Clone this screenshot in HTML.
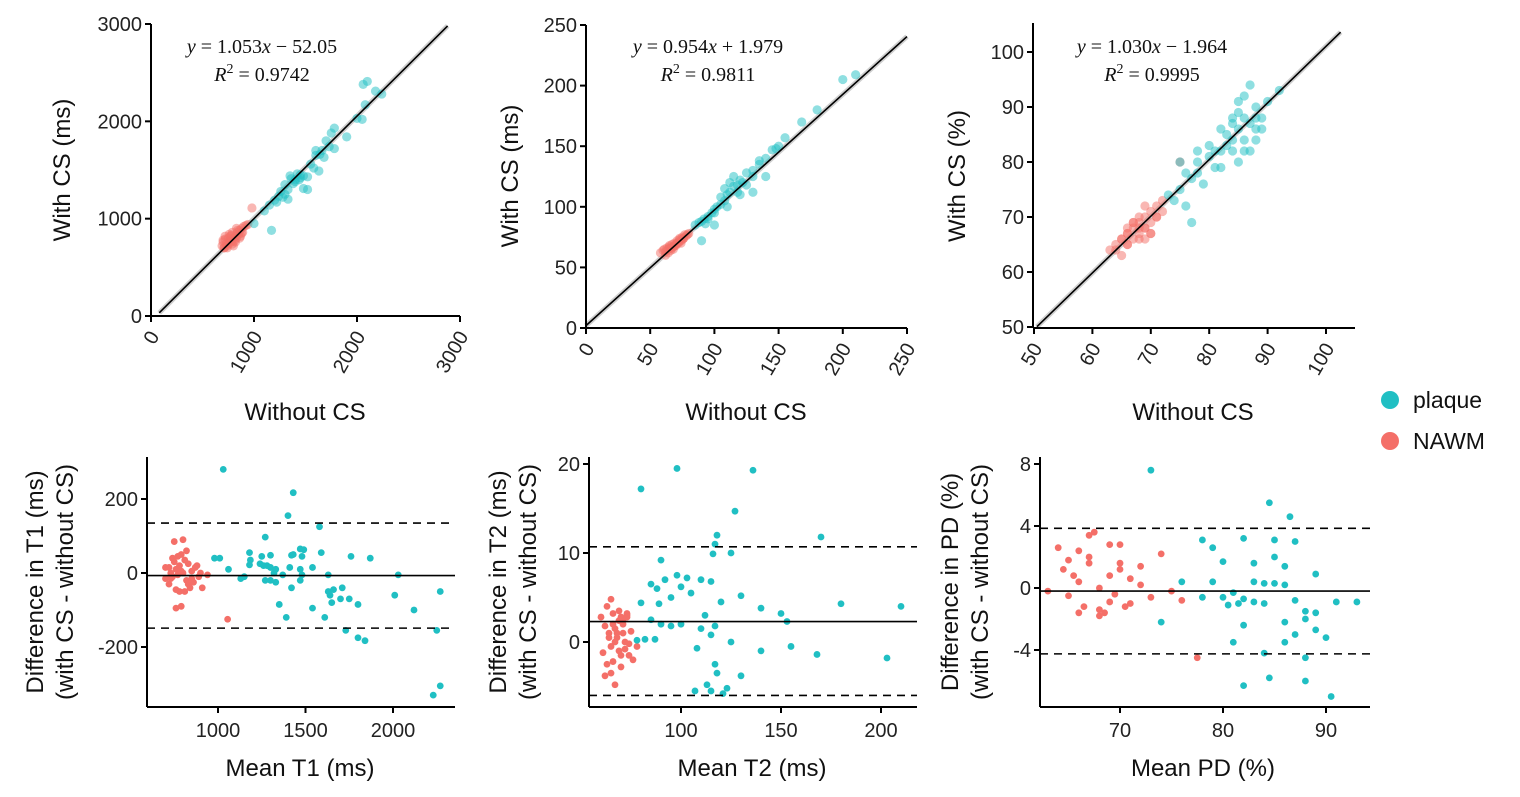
<!DOCTYPE html>
<html><head><meta charset="utf-8">
<style>
html,body{margin:0;padding:0;background:#fff;}
svg{display:block;font-family:"Liberation Sans",sans-serif;}
.tick{font-size:20px;fill:#222;}
.alab{font-size:24px;fill:#111;}
.eq{font-family:"Liberation Serif",serif;font-size:20px;fill:#111;}
</style></head>
<body>
<svg id="fig" width="1520" height="797" viewBox="0 0 1520 797" xmlns="http://www.w3.org/2000/svg"></svg>
<script>
// ---------- data ----------
const t1PlaqueX=[2100,2060,2180,2240,2080,2000,2050,1900,1780,1750,1780,1700,1730,1640,1600,1680,1550,1580,1630,1520,1480,1450,1400,1440,1350,1380,1480,1520,1300,1330,1300,1240,1260,1330,1220,1150,1100,1000,1170,1400,1360,1450,1600,1280,1420,1660,1200];
const t1PlaqueY=[2410,2380,2310,2280,2170,2030,2020,1840,1930,1880,1720,1800,1740,1660,1650,1630,1560,1520,1490,1430,1440,1420,1380,1400,1440,1360,1310,1300,1350,1300,1250,1230,1280,1200,1170,1140,1080,950,880,1400,1410,1450,1700,1220,1460,1700,1190];
const t1NawmX=[690,700,710,720,730,740,750,760,770,780,790,800,810,820,830,840,850,860,870,880,890,900,920,940,700,720,740,760,780,800,820,840,860,880,750,790,830,980,710,770];
const t1NawmY=[720,760,700,790,740,720,800,760,780,830,740,800,770,820,800,860,840,880,820,900,860,920,930,940,780,820,700,840,760,720,760,880,800,850,740,860,900,1110,700,820];
const t2PlaqueX=[210,200,180,168,155,150,145,140,135,130,125,120,118,115,112,110,108,105,102,100,98,95,92,90,88,85,93,100,110,120,125,130,140,112,115,108,90,100,122,135,148,105,118,130,95];
const t2PlaqueY=[209,205,180,170,157,150,147,140,135,130,128,122,118,117,112,110,105,102,100,98,95,92,90,88,87,85,86,95,100,110,118,112,125,120,125,115,72,85,120,138,148,108,112,125,90];
const t2NawmX=[58,60,62,63,64,65,66,67,68,69,70,71,72,73,74,75,76,77,78,80,62,64,66,68,70,72,74,76,65,67,69,71,73,75,61,79];
const t2NawmY=[62,64,63,66,65,68,66,69,67,70,69,72,71,73,72,75,74,77,76,78,60,62,64,65,68,70,70,74,67,66,68,70,74,73,65,77];
const t3PlaqueX=[87,86,85,88,90,92,84,86,88,85,82,84,86,88,88,80,82,84,86,80,78,82,81,78,76,77,79,75,74,76,77,75,83,85,87,89,89,83,81,73,85,78,87,84];
const t3PlaqueY=[94,92,91,90,91,93,88,88,88,86,86,84,84,86,84,83,82,82,82,81,80,79,79,78,78,77,76,75,73,72,69,80,85,80,87,88,86,83,82,74,89,82,82,87];
const t3NawmX=[63,64,65,65,66,66,67,67,68,68,69,69,70,70,71,71,72,72,66,67,68,69,70,65,66,68,70,64,67,69,71,75,66,68,69];
const t3NawmY=[64,65,63,66,67,65,68,66,69,67,70,68,71,67,72,70,73,71,68,69,66,66,69,66,65,70,67,64,69,68,70,80,67,68,72];
const b1PlaqueX=[1030,1430,1400,1580,1270,980,1180,1185,1180,1240,1250,1300,1280,1300,1260,1330,1320,1370,1300,1270,1330,1410,1430,1420,1470,1490,1480,1470,1480,1470,1420,1540,1590,1630,1630,1640,1660,1650,1710,1700,1750,1760,1870,1800,1540,1350,1390,1610,1730,1800,1840,2010,2030,2120,2270,2250,2230,2270,1130,1150,1060,1010];
const b1PlaqueY=[280,217,155,125,97,40,55,35,22,25,45,48,20,15,20,10,0,-5,-20,-20,-25,15,50,48,65,63,45,10,-5,-20,-40,15,55,-5,-50,-60,-45,-80,-40,-70,-70,45,40,-85,-95,-85,-120,-120,-155,-175,-183,-60,-5,-100,-50,-155,-330,-305,-15,-10,10,40];
const b1NawmX=[700,720,730,740,750,760,770,780,790,800,810,820,830,840,850,860,870,880,890,900,760,790,800,750,820,730,780,810,940,910,770,740,760,1055,850,720,830,790,700];
const b1NawmY=[15,-30,-15,40,30,10,-5,20,50,0,35,-20,25,-40,5,-25,15,20,-10,0,-95,-90,90,85,60,0,-50,-50,-5,-40,45,-10,-45,-125,-15,15,-30,5,-15];
const b2PlaqueX=[98,136,80,127,118,170,117,125,116,90,98,103,92,110,115,85,88,100,95,105,130,120,140,150,112,80,85,90,95,100,110,117,153,180,210,87,115,125,140,155,168,203,117,118,130,113,107,115,121,82,78,108,89,123];
const b2PlaqueY=[19.5,19.3,17.2,14.7,12,11.8,11,10,9.9,9.2,7.5,7.2,7,7,6.8,6.5,6,6.2,5,5.5,5.2,4.5,3.8,3.2,3,4.4,2.5,2,1.8,2,1.5,1.8,2.3,4.3,4,0.3,0.8,0,-1,-0.5,-1.4,-1.8,-2.5,-3.5,-3.8,-4.8,-5.5,-5.5,-5.8,0.3,0.2,-0.7,4.3,-5.2];
const b2NawmX=[60,61,62,63,64,65,66,67,68,69,70,71,72,73,74,75,76,78,63,65,67,69,71,73,64,66,68,70,72,62,66,70,74,67,69,71,65,73];
const b2NawmY=[2.8,-1.2,-3.8,-2.5,0.5,4.8,2,-4.8,1,3.5,-1.5,2.5,0,3,-0.2,1.2,-2,-0.5,4,-3.5,1.5,-1,2,3.2,1,-2.2,0.5,2.8,-0.8,1.8,3.2,-2.8,-1.5,0,2.4,1,-0.5,2.8];
const b3PlaqueX=[73,84.5,86.5,78,82,85,87,79,85,80,83,86,89,76,79,83,84,85,86,81,78,80,82,83,84,80.5,81.5,87,88,89,91,93,74,82,86,87,88,89,90,86,81,84,88,84.5,88,82,90.5];
const b3PlaqueY=[7.6,5.5,4.6,3.1,3.2,3.1,3,2.6,2,1.7,1.6,1.4,0.9,0.4,0.4,0.4,0.3,0.3,0.2,-0.3,-0.6,-0.6,-0.7,-0.9,-1,-1.1,-1,-0.8,-1.5,-1.6,-0.9,-0.9,-2.2,-2.4,-2.2,-3,-2,-2.7,-3.2,-3.5,-3.5,-4.2,-4.5,-5.8,-6,-6.3,-7];
const b3NawmX=[63,64,64.5,65,65.5,66,66.5,67,67.5,68,68.5,69,69.5,70,70.5,71,72,73,74,75,76,65,66,67,68,69,70,71,72,66,68,70,77.5,67,69];
const b3NawmY=[-0.2,2.6,1.2,-0.5,0.8,2.4,-1.2,1.6,3.6,0,-1.6,2.8,-0.4,1.6,-1.2,0.6,1.4,-0.6,2.2,-0.2,-0.8,1.8,-1.6,3.4,-1.8,0.8,2.8,-1,0.2,0.4,-1.4,1.2,-4.5,2,-0.9];
const tick1=[0,1000,2000,3000], tick2=[0,50,100,150,200,250], tick3=[50,60,70,80,90,100];
const bx1=[1000,1500,2000], by1=[-200,0,200];
const bx2=[100,150,200], by2=[0,10,20];
const bx3=[70,80,90], by3=[-4,0,4,8];
const fit1=[1.053,-52.05], fit2=[0.954,1.979], fit3=[1.030,-1.964];
const ba1=[-7,135,-149], ba2=[2.3,10.7,-6.0], ba3=[-0.2,3.85,-4.25];

// ---------- drawing ----------
const NS="http://www.w3.org/2000/svg";
const svg=document.getElementById('fig');
function mk(tag,attrs,parent){const e=document.createElementNS(NS,tag);for(const k in attrs)e.setAttribute(k,attrs[k]);(parent||svg).appendChild(e);return e;}
const TEAL="#20bfc3", RED="#f46f68";
function lin(d0,d1,p0,p1){return v=>p0+(v-d0)*(p1-p0)/(d1-d0);}

function topPanel(o){
  const g=mk('g',{});
  
  
  const sx=lin(o.xd[0],o.xd[1],o.xp[0],o.xp[1]);
  const sy=lin(o.yd[0],o.yd[1],o.yp[0],o.yp[1]);
  const [m,b]=o.fit;
  const band=mk('line',{x1:sx(o.lx[0]),y1:sy(m*o.lx[0]+b),x2:sx(o.lx[1]),y2:sy(m*o.lx[1]+b),stroke:'#cfcfcf','stroke-width':5},g);
  
  
  const pts=(X,Y,c,nm)=>{for(let i=0;i<X.length;i++){const e=mk('circle',{cx:sx(X[i]),cy:sy(Y[i]),r:4.6,fill:c,'fill-opacity':0.5},g);
    
    }};
  pts(o.nx,o.ny,RED,'nawm-point');
  pts(o.px,o.py,TEAL,'plaque-point');
  const fl=mk('line',{x1:sx(o.lx[0]),y1:sy(m*o.lx[0]+b),x2:sx(o.lx[1]),y2:sy(m*o.lx[1]+b),stroke:'#000','stroke-width':1.6},g);
  
  
  mk('line',{x1:o.ax,y1:o.atop,x2:o.ax,y2:o.ay,stroke:'#000','stroke-width':2},g);
  mk('line',{x1:o.ax,y1:o.ay,x2:o.aright,y2:o.ay,stroke:'#000','stroke-width':2},g);
  o.ticks.forEach(t=>{
    const x=sx(t),y=sy(t);
    if(t>=o.yd[0]){mk('line',{x1:o.ax-6,y1:y,x2:o.ax,y2:y,stroke:'#000','stroke-width':2},g);
      const tl=mk('text',{x:o.ax-9,y:y+7,'text-anchor':'end',class:'tick'},g);tl.textContent=t;
      
      }
    mk('line',{x1:x,y1:o.ay,x2:x,y2:o.ay+6,stroke:'#000','stroke-width':2},g);
    const ax=x+9, ay=o.ay+20;
    const xl=mk('text',{x:ax,y:ay,'text-anchor':'end',class:'tick',transform:`rotate(-60 ${ax} ${ay})`},g);xl.textContent=t;
    
    
  });
  const yl=mk('text',{x:0,y:0,'text-anchor':'middle',class:'alab',transform:`translate(${o.ylx},${o.yly}) rotate(-90)`},g);yl.textContent=o.ylab;
  
  
  const xl=mk('text',{x:o.xlx,y:420,'text-anchor':'middle',class:'alab'},g);xl.textContent='Without CS';
  
  
  const e1=mk('text',{x:o.eqx,y:53,'text-anchor':'middle',class:'eq'},g);
  e1.innerHTML=`<tspan font-style="italic">y</tspan> = ${m.toFixed(3)}<tspan font-style="italic">x</tspan> ${b<0?'−':'+'} ${Math.abs(b)}`;
  
  
  const e2=mk('text',{x:o.eqx,y:81,'text-anchor':'middle',class:'eq'},g);
  e2.innerHTML=`<tspan font-style="italic">R</tspan><tspan dy="-8" font-size="14">2</tspan><tspan dy="8"> = ${o.r2}</tspan>`;
  
  
}

function baPanel(o){
  const g=mk('g',{});
  
  
  const sx=lin(o.xd[0],o.xd[1],o.xp[0],o.xp[1]);
  const sy=lin(o.yd[0],o.yd[1],o.yp[0],o.yp[1]);
  const pts=(X,Y,c,nm)=>{for(let i=0;i<X.length;i++){const e=mk('circle',{cx:sx(X[i]),cy:sy(Y[i]),r:3.4,fill:c},g);
    
    }};
  pts(o.nx,o.ny,RED,'nawm-point');
  pts(o.px,o.py,TEAL,'plaque-point');
  o.ba.forEach((v,i)=>{const l=mk('line',{x1:o.ax,y1:sy(v),x2:o.aright,y2:sy(v),stroke:'#000','stroke-width':1.6},g);
    if(i>0)l.setAttribute('stroke-dasharray','8,6');
    
    });
  mk('line',{x1:o.ax,y1:o.atop,x2:o.ax,y2:707,stroke:'#000','stroke-width':2},g);
  mk('line',{x1:o.ax,y1:707,x2:o.aright,y2:707,stroke:'#000','stroke-width':2},g);
  o.yt.forEach(t=>{const y=sy(t);mk('line',{x1:o.ax-6,y1:y,x2:o.ax,y2:y,stroke:'#000','stroke-width':2},g);
    const tl=mk('text',{x:o.ax-9,y:y+7,'text-anchor':'end',class:'tick'},g);tl.textContent=t;
    
    });
  o.xt.forEach(t=>{const x=sx(t);mk('line',{x1:x,y1:707,x2:x,y2:713,stroke:'#000','stroke-width':2},g);
    const tl=mk('text',{x:x,y:737,'text-anchor':'middle',class:'tick'},g);tl.textContent=t;
    
    });
  const y1=mk('text',{x:0,y:0,'text-anchor':'middle',class:'alab',transform:`translate(${o.ylx},582) rotate(-90)`},g);y1.textContent=o.ylab;
  
  
  const y2=mk('text',{x:0,y:0,'text-anchor':'middle',class:'alab',transform:`translate(${o.ylx+30},582) rotate(-90)`},g);y2.textContent='(with CS - without CS)';
  
  
  const xl=mk('text',{x:o.xlx,y:776,'text-anchor':'middle',class:'alab'},g);xl.textContent=o.xlab;
  
  
}

topPanel({name:'t1-scatter',xd:[0,3000],xp:[151,460],yd:[0,3000],yp:[316,24],ax:151,ay:316,atop:24,aright:460,ticks:tick1,
  px:t1PlaqueX,py:t1PlaqueY,nx:t1NawmX,ny:t1NawmY,fit:fit1,lx:[80,2880],ylab:'With CS (ms)',ylx:70,yly:170,xlx:305,eqx:262,r2:'0.9742'});
topPanel({name:'t2-scatter',xd:[0,250],xp:[586,907],yd:[0,250],yp:[328,25],ax:586,ay:328,atop:25,aright:907,ticks:tick2,
  px:t2PlaqueX,py:t2PlaqueY,nx:t2NawmX,ny:t2NawmY,fit:fit2,lx:[0,250],ylab:'With CS (ms)',ylx:518,yly:176,xlx:746,eqx:708,r2:'0.9811'});
topPanel({name:'pd-scatter',xd:[50,100],xp:[1034,1326],yd:[50,100],yp:[327,52],ax:1033,ay:328,atop:23,aright:1355,ticks:tick3,
  px:t3PlaqueX,py:t3PlaqueY,nx:t3NawmX,ny:t3NawmY,fit:fit3,lx:[50.5,102.5],ylab:'With CS (%)',ylx:965,yly:176,xlx:1193,eqx:1152,r2:'0.9995'});

baPanel({name:'t1-bland-altman',xd:[1000,2000],xp:[218,393],yd:[0,200],yp:[573,499],ax:147,atop:457,aright:455,yt:by1,xt:bx1,
  px:b1PlaqueX,py:b1PlaqueY,nx:b1NawmX,ny:b1NawmY,ba:ba1,ylab:'Difference in T1 (ms)',ylx:43,xlx:300,xlab:'Mean T1 (ms)'});
baPanel({name:'t2-bland-altman',xd:[100,200],xp:[681,881],yd:[0,20],yp:[642,464],ax:589,atop:457,aright:917,yt:by2,xt:bx2,
  px:b2PlaqueX,py:b2PlaqueY,nx:b2NawmX,ny:b2NawmY,ba:ba2,ylab:'Difference in T2 (ms)',ylx:506,xlx:752,xlab:'Mean T2 (ms)'});
baPanel({name:'pd-bland-altman',xd:[70,90],xp:[1120,1326],yd:[0,8],yp:[588,464],ax:1040,atop:457,aright:1370,yt:by3,xt:bx3,
  px:b3PlaqueX,py:b3PlaqueY,nx:b3NawmX,ny:b3NawmY,ba:ba3,ylab:'Difference in PD (%)',ylx:958,xlx:1203,xlab:'Mean PD (%)'});

const lg=mk('g',{});


[['plaque',TEAL,400],['NAWM',RED,441]].forEach(([t,c,y])=>{
  const ent=mk('g',{},lg);
  
  
  mk('circle',{cx:1390,cy:y,r:9,fill:c},ent);
  const tx=mk('text',{x:1413,y:y+8,style:'font-size:23px;fill:#111'},ent);tx.textContent=t;
});
</script>
</body></html>
